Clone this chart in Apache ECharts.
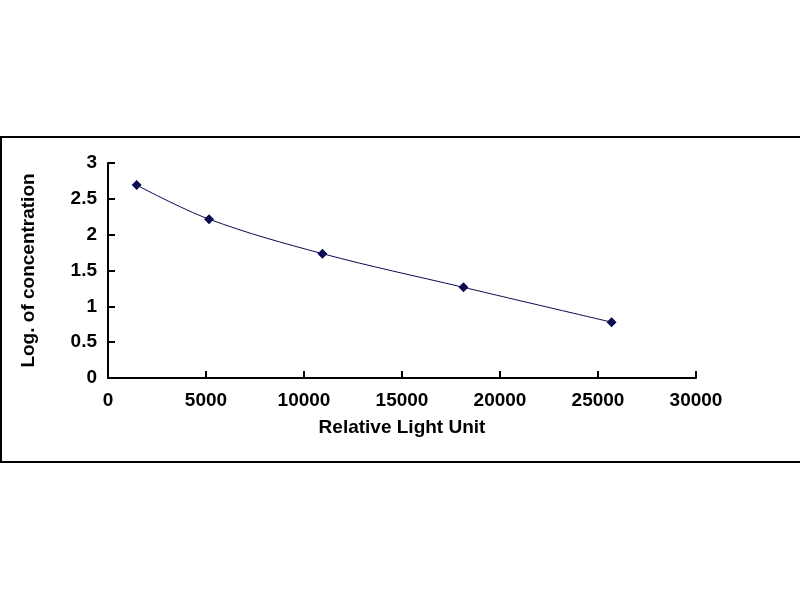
<!DOCTYPE html>
<html>
<head>
<meta charset="utf-8">
<script src="https://cdn.jsdelivr.net/npm/echarts@6/dist/echarts.min.js"></script>
<style>
  html, body { margin: 0; padding: 0; background: #fff; }
  #main { width: 800px; height: 600px; }
</style>
</head>
<body>
<div id="main"></div>
<script>
// standard curve points
var rlu = [1465, 5156, 10940, 18137, 25692];
var logConc = [2.692, 2.216, 1.735, 1.265, 0.779];
var xTicks = [0, 5000, 10000, 15000, 20000, 25000, 30000];
var yTicks = [0, 0.5, 1, 1.5, 2, 2.5, 3];

var chart = echarts.init(document.getElementById('main'));

var points = rlu.map(function (x, i) { return [x, logConc[i]]; });
var font = 'Arial, "Liberation Sans", sans-serif';

chart.setOption({
  animation: false,
  backgroundColor: '#fff',
  graphic: [
    // outer frame (right side runs off the page)
    { type: 'rect', shape: { x: 1, y: 137, width: 810, height: 325 },
      style: { fill: 'none', stroke: '#000', lineWidth: 2 } }
  ],
  grid: { left: 108, right: 104, top: 163, bottom: 222 },
  xAxis: {
    type: 'value',
    min: xTicks[0],
    max: xTicks[xTicks.length - 1],
    interval: 5000,
    name: 'Relative Light Unit',
    nameLocation: 'middle',
    nameGap: 40,
    nameTextStyle: { color: '#000', fontWeight: 'bold', fontSize: 19, fontFamily: font },
    axisLine: { lineStyle: { color: '#000', width: 2 } },
    axisTick: { inside: true, length: 7, lineStyle: { color: '#000', width: 2 } },
    axisLabel: { color: '#000', fontWeight: 'bold', fontSize: 19, fontFamily: font, margin: 13,
      formatter: function (v) { return String(v); } },
    splitLine: { show: false }
  },
  yAxis: {
    type: 'value',
    min: yTicks[0],
    max: yTicks[yTicks.length - 1],
    interval: 0.5,
    name: 'Log. of concentration',
    nameLocation: 'middle',
    nameGap: 70,
    nameTextStyle: { color: '#000', fontWeight: 'bold', fontSize: 19, fontFamily: font },
    axisLine: { show: true, lineStyle: { color: '#000', width: 2 } },
    axisTick: { show: true, inside: true, length: 7, lineStyle: { color: '#000', width: 2 } },
    axisLabel: { color: '#000', fontWeight: 'bold', fontSize: 19, fontFamily: font, margin: 11,
      formatter: function (v) { return String(v); } },
    splitLine: { show: false }
  },
  series: [{
    type: 'line',
    data: points,
    smooth: 0.35,
    symbol: 'diamond',
    symbolSize: 10,
    itemStyle: { color: '#0a0a50' },
    lineStyle: { color: '#0a0a50', width: 1 }
  }]
});
</script>
</body>
</html>
